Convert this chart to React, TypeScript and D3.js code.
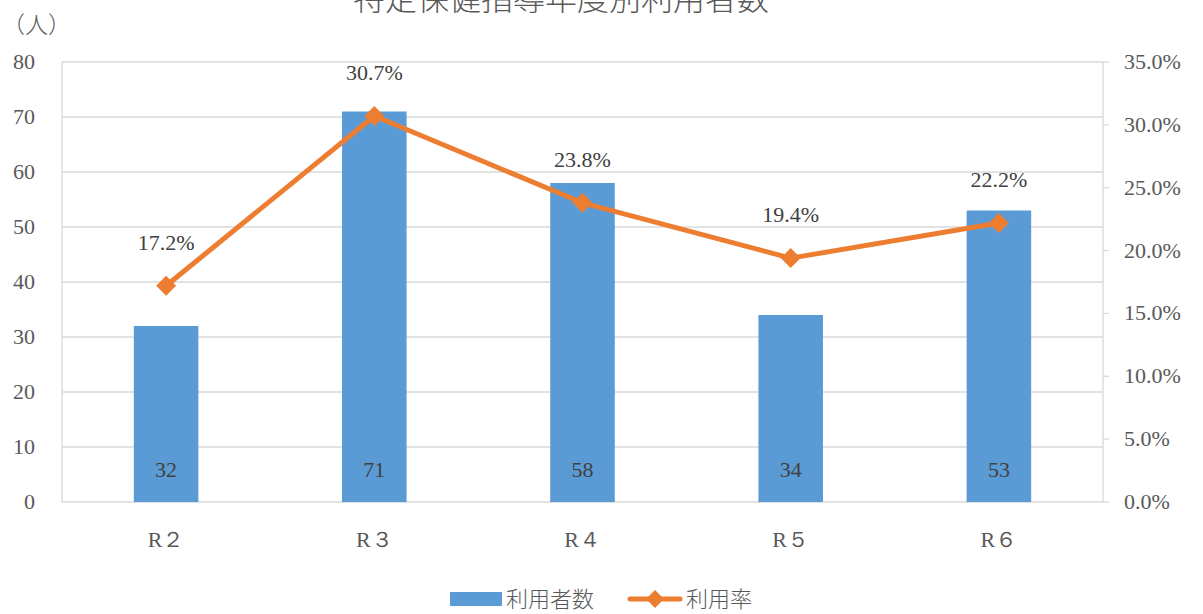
import React from "react";
import * as d3 from "d3";

const categories = ["R２", "R３", "R４", "R５", "R６"];
const users = [32, 71, 58, 34, 53];
const rates = [17.2, 30.7, 23.8, 19.4, 22.2];
const leftTicks = [0, 10, 20, 30, 40, 50, 60, 70, 80];
const rightTicks = [0, 5, 10, 15, 20, 25, 30, 35];

const W = 1203, H = 614;
const M = { left: 62, right: 1103, top: 62, bottom: 502 };
const BLUE = "#5B9BD5", ORANGE = "#ED7D31";
const SERIF = "'Liberation Serif', 'DejaVu Serif', serif";
const CJK = "'Noto Sans CJK JP', sans-serif";
const TXT = "#595959";

export default function App() {
  const x = d3.scaleBand<string>().domain(categories).range([M.left, M.right]).paddingInner(0).paddingOuter(0);
  const yL = d3.scaleLinear().domain([0, 80]).range([M.bottom, M.top]);
  const yR = d3.scaleLinear().domain([0, 35]).range([M.bottom, M.top]);
  const barW = x.bandwidth() * 0.31;
  const cx = (c: string) => (x(c) as number) + x.bandwidth() / 2;
  const line = d3.line<number>().x((_, i) => cx(categories[i])).y((d) => yR(d));
  const diamond = (px: number, py: number, r: number) =>
    `M${px},${py - r}L${px + r},${py}L${px},${py + r}L${px - r},${py}Z`;

  return (
    <svg width={W} height={H} style={{ position: "fixed", left: 0, top: 0, background: "#fff" }}>
      <text x={561} y={10} textAnchor="middle" fontFamily={CJK} fontWeight={300} fontSize={32} fill={TXT}>
        特定保健指導年度別利用者数
      </text>
      <text x={2} y={33} fontFamily={CJK} fontWeight={300} fontSize={23} fill={TXT}>（人）</text>
      {leftTicks.map((t) => (
        <g key={"l" + t}>
          <line x1={M.left} x2={M.right} y1={yL(t)} y2={yL(t)} stroke="#D9D9D9" strokeWidth={1.3} />
          <text x={35} y={yL(t) + 7} textAnchor="end" fontFamily={SERIF} fontSize={22} fill={TXT}>{t}</text>
        </g>
      ))}
      <line x1={M.left} x2={M.left} y1={M.top} y2={M.bottom} stroke="#D9D9D9" strokeWidth={1.3} />
      <line x1={M.right} x2={M.right} y1={M.top} y2={M.bottom} stroke="#D9D9D9" strokeWidth={1.3} />
      {rightTicks.map((t) => (
        <g key={"r" + t}>
          <line x1={M.right} x2={M.right + 6} y1={yR(t)} y2={yR(t)} stroke="#D9D9D9" strokeWidth={1.3} />
          <text x={1124} y={yR(t) + 7} fontFamily={SERIF} fontSize={22} fill={TXT}>{t.toFixed(1)}%</text>
        </g>
      ))}
      {categories.map((c, i) => (
        <g key={c}>
          <rect x={cx(c) - barW / 2} y={yL(users[i])} width={barW} height={M.bottom - yL(users[i])} fill={BLUE} />
          <text x={cx(c)} y={477} textAnchor="middle" fontFamily={SERIF} fontSize={22} fill="#404040">{users[i]}</text>
          <text x={cx(c)} y={547} textAnchor="middle" fontFamily={SERIF} fontSize={22} fill={TXT}>{c}</text>
        </g>
      ))}
      <path d={line(rates) || ""} fill="none" stroke={ORANGE} strokeWidth={5} strokeLinejoin="round" strokeLinecap="round" />
      {rates.map((r, i) => (
        <g key={"p" + i}>
          <path d={diamond(cx(categories[i]), yR(r), 10)} fill={ORANGE} />
          <text x={cx(categories[i])} y={yR(r) - 36} textAnchor="middle" fontFamily={SERIF} fontSize={22} fill="#404040">
            {r.toFixed(1)}%
          </text>
        </g>
      ))}
      <rect x={450} y={592} width={52} height={14} fill={BLUE} />
      <text x={506} y={607} fontFamily={CJK} fontWeight={300} fontSize={22} fill={TXT}>利用者数</text>
      <line x1={630} x2={680} y1={599} y2={599} stroke={ORANGE} strokeWidth={5} strokeLinecap="round" />
      <path d={diamond(655, 599, 9)} fill={ORANGE} />
      <text x={686} y={607} fontFamily={CJK} fontWeight={300} fontSize={22} fill={TXT}>利用率</text>
    </svg>
  );
}
